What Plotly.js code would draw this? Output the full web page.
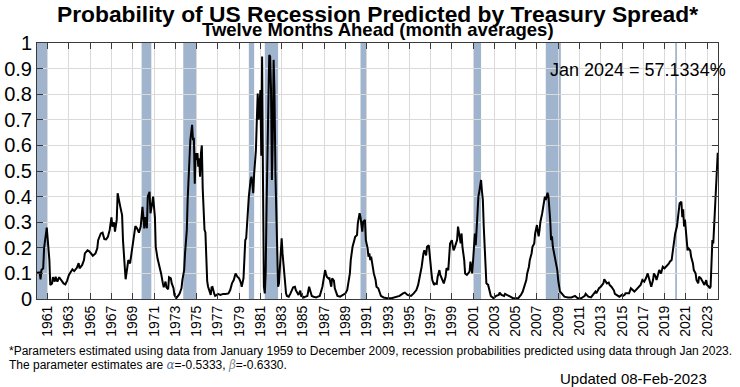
<!DOCTYPE html>
<html>
<head>
<meta charset="utf-8">
<script src="https://cdn.plot.ly/plotly-3.0.1.min.js"></script>
<style>html,body{margin:0;padding:0;background:#fff;}#chart{width:740px;height:387px;}</style>
</head>
<body>
<div id="chart"></div>
<script>
// ---- data ----
const months1960s = [
 '1960-01','1960-04','1960-05','1960-06','1960-08','1960-09','1960-12',
 '1961-01','1961-02','1961-03','1961-04','1961-06','1961-07','1961-09','1961-10','1961-12',
 '1962-02','1962-04','1962-07','1962-09','1962-11',
 '1963-01','1963-04','1963-05','1963-07','1963-10','1963-12',
 '1964-01','1964-04','1964-06','1964-07','1964-10','1964-12',
 '1965-02','1965-04','1965-07','1965-09','1965-10',
 '1966-01','1966-03','1966-05','1966-07','1966-09','1966-11',
 '1967-01','1967-02','1967-04','1967-05','1967-07','1967-08','1967-10','1967-11',
 '1968-01','1968-02','1968-04','1968-05','1968-07','1968-08','1968-10','1968-11',
 '1969-01','1969-02','1969-04','1969-06','1969-08','1969-10','1969-12'];
const prob1960s = [
 0.103,0.104,0.077,0.113,0.12,0.20,0.279,
 0.23,0.165,0.152,0.055,0.061,0.085,0.068,0.087,0.068,
 0.085,0.074,0.061,0.057,0.072,
 0.094,0.113,0.116,0.109,0.122,0.14,
 0.12,0.133,0.152,0.178,0.19,0.186,
 0.178,0.169,0.178,0.198,0.23,
 0.256,0.259,0.234,0.233,0.243,0.27,
 0.319,0.283,0.299,0.263,0.309,0.413,0.367,0.36,
 0.328,0.23,0.126,0.077,0.126,0.152,0.139,0.165,
 0.21,0.23,0.285,0.275,0.259,0.283,0.36];

const months1970s = [
 '1970-02','1970-03','1970-05','1970-06','1970-08','1970-09','1970-11','1970-12',
 '1971-02','1971-03','1971-05','1971-06','1971-08','1971-09','1971-11','1971-12',
 '1972-02','1972-03','1972-05','1972-06','1972-08','1972-09','1972-11','1972-12',
 '1973-02','1973-03','1973-05','1973-06','1973-08','1973-09','1973-11','1973-12',
 '1974-02','1974-03','1974-05','1974-06','1974-08','1974-09','1974-10','1974-11','1974-12',
 '1975-01','1975-02','1975-03','1975-04','1975-05','1975-06','1975-07','1975-08','1975-09','1975-10','1975-11','1975-12',
 '1976-01','1976-02','1976-04','1976-05','1976-06','1976-07','1976-09','1976-10','1976-12',
 '1977-01','1977-04','1977-07','1977-10',
 '1978-01','1978-03','1978-05','1978-07','1978-09','1978-11',
 '1979-01','1979-03','1979-04','1979-06','1979-07','1979-08','1979-09','1979-11','1979-12'];
const prob1970s = [
 0.276,0.32,0.276,0.40,0.419,0.335,0.374,0.40,
 0.32,0.204,0.159,0.146,0.113,0.10,0.061,0.046,
 0.068,0.046,0.038,0.085,0.081,0.061,0.042,0.016,
 0.003,0.009,0.016,0.022,0.042,0.074,0.113,0.178,
 0.27,0.387,0.517,0.62,0.68,0.62,0.63,0.45,0.57,
 0.543,0.57,0.517,0.55,0.478,0.57,0.60,0.43,0.296,0.27,0.26,0.15,
 0.07,0.048,0.022,0.016,0.046,0.047,0.02,0.012,0.016,
 0.02,0.016,0.02,0.02,
 0.022,0.035,0.061,0.074,0.10,0.087,
 0.081,0.064,0.048,0.081,0.152,0.23,0.237,0.348,0.40];

const months1980s = [
 '1980-02','1980-03','1980-04','1980-05','1980-06','1980-08','1980-09','1980-10','1980-11','1980-12',
 '1981-01','1981-02','1981-03','1981-04','1981-05','1981-06','1981-07','1981-08','1981-09','1981-10','1981-11','1981-12',
 '1982-01','1982-02','1982-03','1982-04','1982-05','1982-06','1982-07','1982-08','1982-09','1982-10','1982-11','1982-12',
 '1983-01','1983-02','1983-04','1983-05','1983-06','1983-07','1983-09','1983-11',
 '1984-01','1984-02','1984-04','1984-05','1984-07','1984-08','1984-10','1984-11',
 '1985-01','1985-02','1985-04','1985-06','1985-08','1985-10','1985-11',
 '1986-01','1986-04','1986-06','1986-08','1986-11','1986-12',
 '1987-02','1987-03','1987-04','1987-06','1987-07','1987-09','1987-10','1987-12',
 '1988-01','1988-03','1988-04','1988-07','1988-10',
 '1989-01','1989-03','1989-04','1989-06','1989-07','1989-09','1989-11','1989-12'];
const prob1980s = [
 0.465,0.478,0.452,0.413,0.49,0.582,0.70,0.803,0.70,0.75,
 0.816,0.56,0.947,0.45,0.048,0.022,0.10,0.36,0.62,0.816,0.953,0.947,
 0.816,0.465,0.62,0.934,0.80,0.49,0.36,0.20,0.048,0.061,0.126,0.20,
 0.237,0.178,0.10,0.048,0.022,0.012,0.009,0.022,
 0.035,0.046,0.048,0.035,0.022,0.016,0.033,0.012,
 0.009,0.006,0.009,0.012,0.048,0.016,0.012,
 0.009,0.006,0.009,0.012,0.048,0.074,
 0.113,0.10,0.087,0.08,0.081,0.048,0.081,0.072,
 0.042,0.022,0.012,0.009,0.016,
 0.022,0.035,0.061,0.10,0.152,0.204,0.23,0.243];

const months1990s = [
 '1990-02','1990-03','1990-05','1990-06','1990-08','1990-09','1990-11','1990-12',
 '1991-02','1991-03','1991-04','1991-05','1991-06','1991-08','1991-09','1991-11','1991-12',
 '1992-02','1992-03','1992-05','1992-08','1992-12',
 '1993-05','1993-09',
 '1994-02','1994-06','1994-08','1994-11',
 '1995-03','1995-06','1995-09','1995-11','1995-12',
 '1996-02','1996-03','1996-05','1996-06','1996-08','1996-09','1996-11','1996-12',
 '1997-02','1997-03','1997-05','1997-06','1997-08','1997-09','1997-11','1997-12',
 '1998-01','1998-03','1998-04','1998-06','1998-07','1998-09','1998-10','1998-11',
 '1999-01','1999-03','1999-04','1999-06','1999-07','1999-08','1999-09','1999-11','1999-12'];
const prob1990s = [
 0.25,0.296,0.335,0.32,0.263,0.302,0.309,0.23,
 0.198,0.165,0.178,0.152,0.165,0.113,0.10,0.074,0.048,
 0.042,0.029,0.012,0.006,0.003,
 0.003,0.006,
 0.012,0.022,0.025,0.016,
 0.012,0.022,0.035,0.055,0.074,
 0.10,0.126,0.178,0.19,0.17,0.204,0.21,0.165,
 0.10,0.074,0.055,0.061,0.059,0.087,0.113,0.094,
 0.085,0.068,0.061,0.087,0.12,0.113,0.165,0.217,
 0.23,0.19,0.198,0.215,0.23,0.283,0.263,0.217,0.256];

const months2000s = [
 '2000-01','2000-03','2000-04','2000-06','2000-07','2000-09','2000-10','2000-11','2000-12',
 '2001-02','2001-03','2001-04','2001-05','2001-06','2001-07','2001-08','2001-09','2001-10','2001-11','2001-12',
 '2002-01','2002-02','2002-03','2002-04','2002-06','2002-07','2002-09','2002-12',
 '2003-03','2003-06','2003-07','2003-09','2003-12',
 '2004-01','2004-04','2004-07','2004-10',
 '2005-01','2005-04','2005-06','2005-07','2005-09','2005-10','2005-11','2005-12',
 '2006-01','2006-02','2006-04','2006-05','2006-07','2006-08','2006-10','2006-11',
 '2007-01','2007-02','2007-03','2007-04','2007-05','2007-07','2007-08','2007-10','2007-11','2007-12',
 '2008-01','2008-02','2008-03','2008-04','2008-05','2008-06','2008-07','2008-09','2008-10','2008-12',
 '2009-01','2009-02','2009-03','2009-05','2009-08','2009-12'];
const prob2000s = [
 0.204,0.152,0.10,0.094,0.10,0.107,0.146,0.12,0.10,
 0.204,0.256,0.21,0.283,0.387,0.40,0.42,0.439,0.465,0.42,0.387,
 0.283,0.178,0.10,0.061,0.055,0.042,0.012,0.003,
 0.012,0.016,0.025,0.016,0.012,
 0.02,0.016,0.009,0.003,
 0.003,0.003,0.012,0.016,0.029,0.042,0.05,0.065,
 0.074,0.10,0.126,0.152,0.178,0.204,0.217,0.256,
 0.289,0.263,0.245,0.27,0.302,0.335,0.36,0.40,0.387,0.40,
 0.415,0.40,0.36,0.309,0.23,0.245,0.204,0.165,0.139,0.113,
 0.074,0.048,0.029,0.022,0.009,0.006];

const months2010s = [
 '2010-04','2010-08','2010-11',
 '2011-03','2011-07','2011-08','2011-11',
 '2012-02','2012-05','2012-07','2012-08','2012-10','2012-11',
 '2013-01','2013-03','2013-04','2013-05','2013-07','2013-08','2013-10','2013-11',
 '2014-01','2014-02','2014-04','2014-05','2014-07','2014-10',
 '2015-01','2015-02','2015-04','2015-05','2015-09','2015-11',
 '2016-03','2016-07','2016-08','2016-10','2016-12',
 '2017-02','2017-04','2017-06','2017-07','2017-08','2017-10','2017-12',
 '2018-01','2018-03','2018-04','2018-06','2018-07','2018-09','2018-10','2018-11',
 '2019-01','2019-03','2019-04','2019-06','2019-07','2019-09','2019-10','2019-12'];
const prob2010s = [
 0.006,0.012,0.003,
 0.003,0.012,0.02,0.009,
 0.006,0.022,0.029,0.022,0.035,0.042,
 0.048,0.055,0.061,0.077,0.068,0.061,0.064,0.055,
 0.048,0.042,0.033,0.02,0.016,0.009,
 0.016,0.012,0.016,0.022,0.022,0.042,
 0.029,0.042,0.048,0.055,0.074,
 0.068,0.081,0.10,0.087,0.074,0.048,0.074,
 0.10,0.087,0.074,0.10,0.113,0.10,0.113,0.126,
 0.12,0.126,0.133,0.139,0.146,0.152,0.178,0.23];

const months2020s = [
 '2020-01','2020-03','2020-04','2020-05','2020-06','2020-08','2020-09','2020-10','2020-11','2020-12',
 '2021-01','2021-02','2021-03','2021-04','2021-06','2021-07','2021-09','2021-10','2021-12',
 '2022-01','2022-03','2022-04','2022-06','2022-07','2022-09','2022-10','2022-12',
 '2023-01','2023-03','2023-04','2023-05','2023-06','2023-07','2023-08','2023-09','2023-10','2023-11','2023-12',
 '2024-01'];
const prob2020s = [
 0.256,0.283,0.32,0.335,0.374,0.38,0.32,0.35,0.283,0.31,
 0.256,0.204,0.19,0.198,0.19,0.165,0.139,0.113,0.10,
 0.074,0.061,0.087,0.081,0.074,0.061,0.055,0.074,
 0.055,0.048,0.042,0.048,0.17,0.23,0.217,0.283,0.335,0.426,0.49,
 0.571];

// recession shading (as drawn in the reference)
const recessionStarts = ['1960-01-01','1969-11-01','1973-10-01','1979-12-01','1981-06-01','1990-06-01','2001-01-01','2007-11-01','2020-01-01'];
const recessionEnds   = ['1961-01-01','1970-10-01','1975-01-01','1980-06-01','1982-09-01','1991-01-01','2001-10-01','2009-04-01','2020-03-01'];

// tick labels
const tickYears = [1961,1963,1965,1967,1969,1971,1973,1975,1977,1979,1981,1983,1985,1987,1989,1991,
                   1993,1995,1997,1999,2001,2003,2005,2007,2009,2011,2013,2015,2017,2019,2021,2023];
const yTickVals = [0,0.1,0.2,0.3,0.4,0.5,0.6,0.7,0.8,0.9,1];
const yTickText = ['0','0.1','0.2','0.3','0.4','0.5','0.6','0.7','0.8','0.9','1'];

// text
const titleText = 'Probability of US Recession Predicted by Treasury Spread*';
const subtitleText = 'Twelve Months Ahead (month averages)';
const latestText = 'Jan 2024 = 57.1334%';
const note1 = '*Parameters estimated using data from January 1959 to December 2009, recession probabilities predicted using data through Jan 2023.';
const note2 = 'The parameter estimates are <span style="font-family:\'DejaVu Serif\',serif;font-style:italic;color:#5a6f96">α</span>=-0.5333, <span style="font-family:\'DejaVu Serif\',serif;font-style:italic;color:#8a8a8a">β</span>=-0.6330.';
const updatedText = 'Updated 08-Feb-2023';

// ---- build ----
const months = [].concat(months1960s, months1970s, months1980s, months1990s, months2000s, months2010s, months2020s);
const probs  = [].concat(prob1960s, prob1970s, prob1980s, prob1990s, prob2000s, prob2010s, prob2020s);

const FONT = '"Liberation Sans", Arial, Helvetica, sans-serif';
const gridColor = '#dadada';
const frameColor = '#3a3a3a';
const bandColor = '#a0b4cd';

const shapes = recessionStarts.map((s, i) => ({
  type: 'rect', xref: 'x', yref: 'paper', x0: s, x1: recessionEnds[i], y0: 0, y1: 1,
  fillcolor: bandColor, line: {width: 0}, layer: 'between'
}));

const trace = {
  x: months, y: probs, type: 'scatter', mode: 'lines',
  line: {color: '#000', width: 2}, hoverinfo: 'skip'
};

const layout = {
  width: 740, height: 387,
  margin: {l: 37, r: 22, t: 43, b: 88},
  paper_bgcolor: '#fff', plot_bgcolor: '#fff',
  showlegend: false,
  font: {family: FONT, color: '#000'},
  xaxis: {
    type: 'date', range: ['1960-01-01', '2024-01-10'],
    tickmode: 'array',
    tickvals: tickYears.map(y => y + '-01-01'),
    ticktext: tickYears.map(String),
    tickangle: -90, tickfont: {size: 14, family: FONT, color: '#000'},
    ticks: 'inside', ticklen: 6, tickcolor: frameColor,
    showline: true, linecolor: frameColor, linewidth: 1, mirror: 'ticks',
    showgrid: true, gridcolor: gridColor, gridwidth: 1, zeroline: false
  },
  yaxis: {
    range: [0, 1], tickmode: 'array', tickvals: yTickVals, ticktext: yTickText,
    tickfont: {size: 20, family: FONT, color: '#000'},
    ticks: 'inside', ticklen: 6, tickcolor: frameColor,
    showline: true, linecolor: frameColor, linewidth: 1, mirror: 'ticks',
    showgrid: true, gridcolor: gridColor, gridwidth: 1, zeroline: false
  },
  shapes: shapes,
  annotations: [
    {text: '<b>' + titleText + '</b>', xref: 'paper', yref: 'paper', x: 0.5, y: 1.113,
     xanchor: 'center', yanchor: 'middle', showarrow: false, font: {size: 22.8, family: FONT, color: '#000'}},
    {text: '<b>' + subtitleText + '</b>', xref: 'paper', yref: 'paper', x: 0.5, y: 1.054,
     xanchor: 'center', yanchor: 'middle', showarrow: false, font: {size: 18.5, family: FONT, color: '#000'}},
    {text: latestText, xref: 'paper', yref: 'paper', x: 0.75, y: 0.896,
     xanchor: 'left', yanchor: 'middle', showarrow: false, font: {size: 18, family: FONT, color: '#000'}},
    {text: note1, xref: 'paper', yref: 'paper', x: -0.044, y: -0.205,
     xanchor: 'left', yanchor: 'middle', showarrow: false, font: {size: 12, family: FONT, color: '#000'}},
    {text: note2, xref: 'paper', yref: 'paper', x: -0.044, y: -0.259,
     xanchor: 'left', yanchor: 'middle', showarrow: false, font: {size: 12, family: FONT, color: '#000'}},
    {text: updatedText, xref: 'paper', yref: 'paper', x: 0.765, y: -0.309,
     xanchor: 'left', yanchor: 'middle', showarrow: false, font: {size: 15, family: FONT, color: '#000'}}
  ]
};

Plotly.newPlot('chart', [trace], layout, {staticPlot: true, displayModeBar: false});
</script>
</body>
</html>
